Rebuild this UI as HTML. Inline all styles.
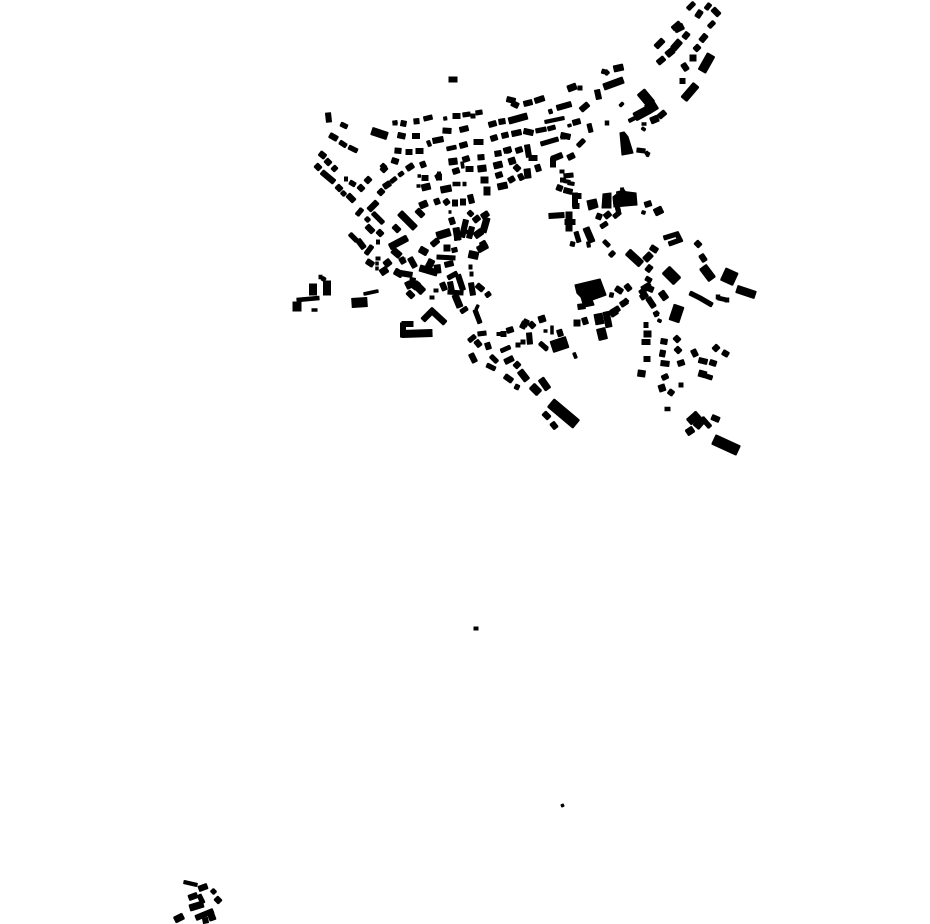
<!DOCTYPE html>
<html><head><meta charset="utf-8"><style>html,body{margin:0;padding:0;background:#fff;width:930px;height:924px;overflow:hidden}svg{display:block}path{fill:none;stroke:#000}polygon{fill:#000}</style></head><body>
<svg width="930" height="924" viewBox="0 0 930 924" xmlns="http://www.w3.org/2000/svg">
<defs><filter id="d" x="0" y="0" width="930" height="924" filterUnits="userSpaceOnUse"><feMorphology operator="dilate" radius="0.45"/></filter></defs>
<g filter="url(#d)">
<path stroke-width="2.5" d="M418 176h2.5M417 186h3M377 262v3M377 267v3M364 294L378 291M312 310h5M544 331h3M552 326v8M658 320l3 1.500M574 353L576 358M623 103l-3 3M568 126l3 -1M642 124h4M642 128l3 2M449 212h2M462 162L463 168"/>
<path stroke-width="3" d="M393 123L397 122M445 117L445.500 120M428 141L430 146M346 177v4M378 240v4M568 183L574 184M564 181L570 182M622 188L623 198M642 212L645 213M588 242L589 247M497 334h4M540 343L547 350M629 121L637 117M545 122L564 118M184 882L197 885M646 152l2 3M439 172v2"/>
<path stroke-width="3.500" d="M297 300L319 298M322 278L325 280M319 277h3M447 149L456 147M399 175.500L403 172.500M391 182L396 178M453 184L460 184M463 184h3M501 351L510 347M604 241L609 246M611 297L612 293M607 121v4M665 409h5M718 298L727 300M718 295v4M727 298v4M655 315l3 -3"/>
<path stroke-width="4" d="M341 124L347 127M340 142L346 146M349 147L357 151M393 123h4M424 119L432 117M463 115L470 114M473 114v4M476 113L482 112M342 192L345 195M350 182L355 185M373 213L383 223M357 215L362 209M366 218l3 3M350 234L357 241M366 254L372 246M378 257v3M403 260h2M437 257L455 258M410 283L417 283M466 231L467 233M432 296L432 299M436 289v3M448 278L457 273M448 292L463 293M469 267h3M470 274h3M486 296l4 -3M461 312L467 308M475 310L480 323M469 341L475 336M478 334L486 333M518 343v4M523 340v4M491 356L497 362M487 365L495 369M518 385L516 389M540 343L547 349M561 137h4M573 242L572 246M576 232L579 242M614 217L620 212M601 227L607 223M610 256L614 252M664 238L677 234L680 240L669 244M646 278L651 281M642 289L650 284M640 293L647 288M655 312L657 316M681 383v4M688 9L694 3M706 9L710 4M709 27L714 22M578 146L584 140M536 131L546 129M548 129L555 127M541 144L558 139M552 111l-3 1M564 176L573 175M562 170v3M637 150L645 151M589 124L591 132M580 86v4M605 71L608 74M602 71l3 1M617 194L625 192M702 418L710 427M706 376L712 378M199 895l4 8M212 890L215 893M647 154l2 1M690 293L700 298L712 305"/>
<path stroke-width="5" d="M328 113L329 122M330 135L337 139M320 153L325 157M326 160L330 164M316 165L320 169M333 167L336 170M322 172L334 182M337 186L341 190M348 195L354 201M359 186L363 190M366 182L370 178M379 194L383 190M384 187L390 183M407 169L413 165M382 168L385 165M382 171L386 167M392 160L398 162M422 162L424 167M422 178L428 178M436 178L440 176M439 174v6M463 160L469 158M453 172L459 170M466 169L473 169M478 157.500L484 157M496 176L502 174M436 199L438 204M445 200L448 204M455 200L455 206M463 199L463 205M470 195L472 203M369 210L377 202M367 226L373 232M378 231L382 235M358 240L364 248M367 261L373 265M394 226L399 231M397 229h1M417 210L423 216M432 245L438 240M451 218L453 224M457 235v5M454 248L455 252M445 265L453 263M462 237L466 220M469 238L472 227M474 221L479 217M482 217L488 213M469 215l3 -3M410 258L415 267M401 258L404 263M400 273L412 275M407 282L410 288M408 292L413 297M410 280L415 281M442 283L445 290M450 282L452 292M458 275L463 290M471 283L473 295M477 285L483 290M478 308l-2 -1M401 123L406 124M398 135L405 136.500M412.500 136L419.500 136M443 130.500L451 131M460 130L468 128M491 139L497 137M502 136L508 134.500M395 150.500L401 151M406 152L412 152M416 151L423 151M460 146L467 144M474 142L483 142M495 154L501 153M504 151L511 149M453 116L460 116M489 125L496 123M499 122L505 121M433 141L443 139M414 121.500L419 121M423 320L432 311L445 323"/>
<path stroke-width="5" d="M476 341L480 346M487 343L489 349M471 354L475 362M501 334h5M507 331L513 329M525 322L522 328M524 326L527 320M530 323L534 327M529 333L530 344M505 362L513 358M515 367L519 363M505 376L512 381M544 413L549 418M552 423L556 428M559 330L561 336M584 318L586 324M611 315L617 311M624 300l3 3M644 325L648 325M642 342h8M644 359h6M661 341L667 342M675 337L679 341M676 348L680 352M678 364L684 362M669 391l4 3M661 363L669 364M693 350L696 356M699 360L707 362M714 350L718 346M723 352L728 355M710 362L716 364M712 417L719 420M696 242L700 246M701 255L705 261M557 187L562 189M564 190L572 192M575 193L575 207M573 196h8M573 206h6M651 203L645 205M598 219L600 214M605 217L610 213M616 210l4 -1M651 247L657 251M647 271L651 266M648 288L653 290M641 298L647 294M648 298L654 307M626 285L630 290M616 288L622 292M578 307L585 306M611 313L619 308M621 305L627 301"/>
<path stroke-width="5" d="M697 17L701 11M713 9L719 15M673 29L680 23M656 47L663 40M684 38L688 33M658 63L664 58M701 41L706 35M695 50L699 46M683 64L687 70M680 81h5M507 99l8 2M512 103L518 106M524 104L532 102M535 101L544 98M581 110L588 104M557 108L571 104M573 123L580 121M597 90L599 99M512 134L521 132M524 131L533 133M561 135L570 137M506 151L510 150M516 151L522 149M527 145L529 157M529 158L537 158M552 159L562 155M553 158L553 167M537 165L539 171M515 166L519 170M509 181L514 178M563 178L563 182M659 117L665 112M574 155L568 158M549 216L564 215M565 222L575 222M199 889L207 886M216 898L220 902M189 898L197 895M196 918L213 911M205 918L206 923"/>
<path stroke-width="6" d="M449 162L457 161M478 169L486 168M494 166L502 164M481 180L488 180M487 187L487 195M498 187L507 185M422 188L430 186M441 190L451 188M420 206L427 203M385 265L390 261M381 273L387 269M393 250L400 256M390 247L407 238M420 249L427 253M447 245v6M420 268L437 273M432 260L427 270M437 265L438 273M395 271L402 275M455 295L460 307M483 232L487 218M475 236L482 231M456 228L458 240M400 213L415 228M481 246L486 243M478 250L487 245M520 371L527 380M539 320L545 318M577 320L577 326M606 312L609 327M644 334h7M638 373L645 374M660 353L665 354M664 375L666 379M661 385L663 391M699 373L706 375M687 433L693 429M541 379L548 389M509 121L527 116M509 162l6 -2M519 178L523 176M527 169L528 178M586 228L592 242M569 212L569 220M569 225L569 231M645 260L651 254M661 292L666 299M675 30L683 26M673 49L680 41M667 55L673 50M693 55V61M604 87L623 80M614 69L623 67M568 89L576 86M651 121L658 118M175 920L183 916M190 908L203 904M210 912L213 920"/>
<path stroke-width="7" d="M372 131L387 136M313 284L313 295M327 281L327 295M532 386L539 393M696 427L703 419M689 422L698 414M416 285L423 292M684 99L696 85M737 289L755 295M628 252L641 264M437 236L450 232M469 254L478 256"/>
<path stroke-width="8" d="M297 302L297 311M702 71L711 55M635 117L648 110M657 208L660 214M703 267L712 279M598 314L600 324M414 284l4 3"/>
<path stroke-width="9" d="M641 92L651 104M352 303L367 302"/>
<path stroke-width="10" d="M649 103L654 111M666 270L677 281M551 403L576 424M714 439.500L738 450.500M674 321L679 306"/>
<path stroke-width="11" d="M552 347L567 342M598 335L606 333"/>
<path stroke-width="13" d="M723.400 274L735.200 279.400"/>
<path stroke-width="5" d="M403 323L403 337M402 324L413 324"/>
<path stroke-width="7" d="M402 334L432 333"/>
<polygon points="575,285 600,279 606,295 592,300 594,305 584,307 581,297 577,293"/>
<polygon points="620,133 624,132 628,137 633,153 622,155"/>
<polygon points="587,201 596,199 598,207 589,210"/>
<polygon points="603,194 611,193 611,208 602,208"/>
<polygon points="613,197 621,191 628,192 636,193 637,205 614,207"/>
<polygon points="449,77 457,77 457,82 449,82"/>
<polygon points="474,627 478,627 478,630 474,630"/>
<polygon points="561,805 563,804 564,806 562,807"/>
</g>
</svg>
</body></html>
